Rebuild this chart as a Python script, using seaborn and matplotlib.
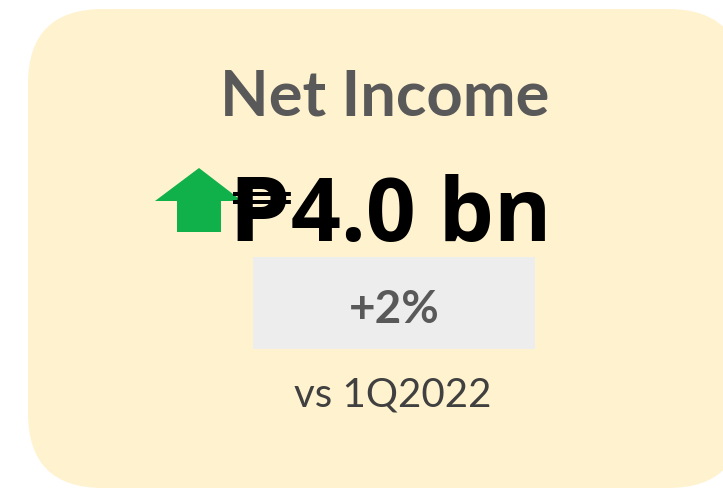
import matplotlib
matplotlib.use("Agg")
import matplotlib.pyplot as plt
from matplotlib.patches import FancyBboxPatch, Rectangle, Polygon
import seaborn as sns

# KPI card content
metric_name = ["Net Income"]
currency = ["₱"]
metric_value = [4.0]
value_unit = ["bn"]
change_pct = [2]
compare_period = ["vs 1Q2022"]

sns.set_theme(style="white")
plt.rcParams["font.family"] = ["Lato", "DejaVu Sans"]

CARD_BG = "#FFF2CF"
CHIP_BG = "#EDEDED"
TITLE_GREY = "#595959"
SUB_GREY = "#404040"
UP_GREEN = "#10B04A"

fig = plt.figure(figsize=(7.23, 4.93), dpi=100)
ax = fig.add_axes([0, 0, 1, 1])
ax.set_xlim(0, 723)
ax.set_ylim(493, 0)
ax.axis("off")

# card background (runs off the right edge)
ax.add_patch(FancyBboxPatch((28, 9), 715, 479,
                            boxstyle="round,pad=0,rounding_size=75",
                            fc=CARD_BG, ec="none", zorder=0))

ax.text(385, 115, metric_name[0], ha="center", va="baseline",
        fontsize=45.5, fontweight="bold", color=TITLE_GREY)

# up arrow, drawn under the value
up = change_pct[0] >= 0
ax.add_patch(Polygon([(155, 201), (199, 168), (242, 201), (221, 201),
                      (221, 232), (177, 232), (177, 201)],
                     closed=True, fc=UP_GREEN if up else "#C00000", ec="none", zorder=1))

ax.text(391, 241, f"{currency[0]}{metric_value[0]:.1f} {value_unit[0]}",
        ha="center", va="baseline", fontsize=63, fontweight="bold",
        family=["Open Sans", "DejaVu Sans"], color="black", zorder=2)

ax.add_patch(Rectangle((253, 257), 282, 92, fc=CHIP_BG, ec="none", zorder=1))
ax.text(394, 323, f"{change_pct[0]:+d}%", ha="center", va="baseline",
        fontsize=33, fontweight="bold", color=TITLE_GREY, zorder=2)

ax.text(393, 407, compare_period[0], ha="center", va="baseline",
        fontsize=29, color=SUB_GREY, zorder=2)

fig.savefig("out.png", dpi=100, facecolor="white")
